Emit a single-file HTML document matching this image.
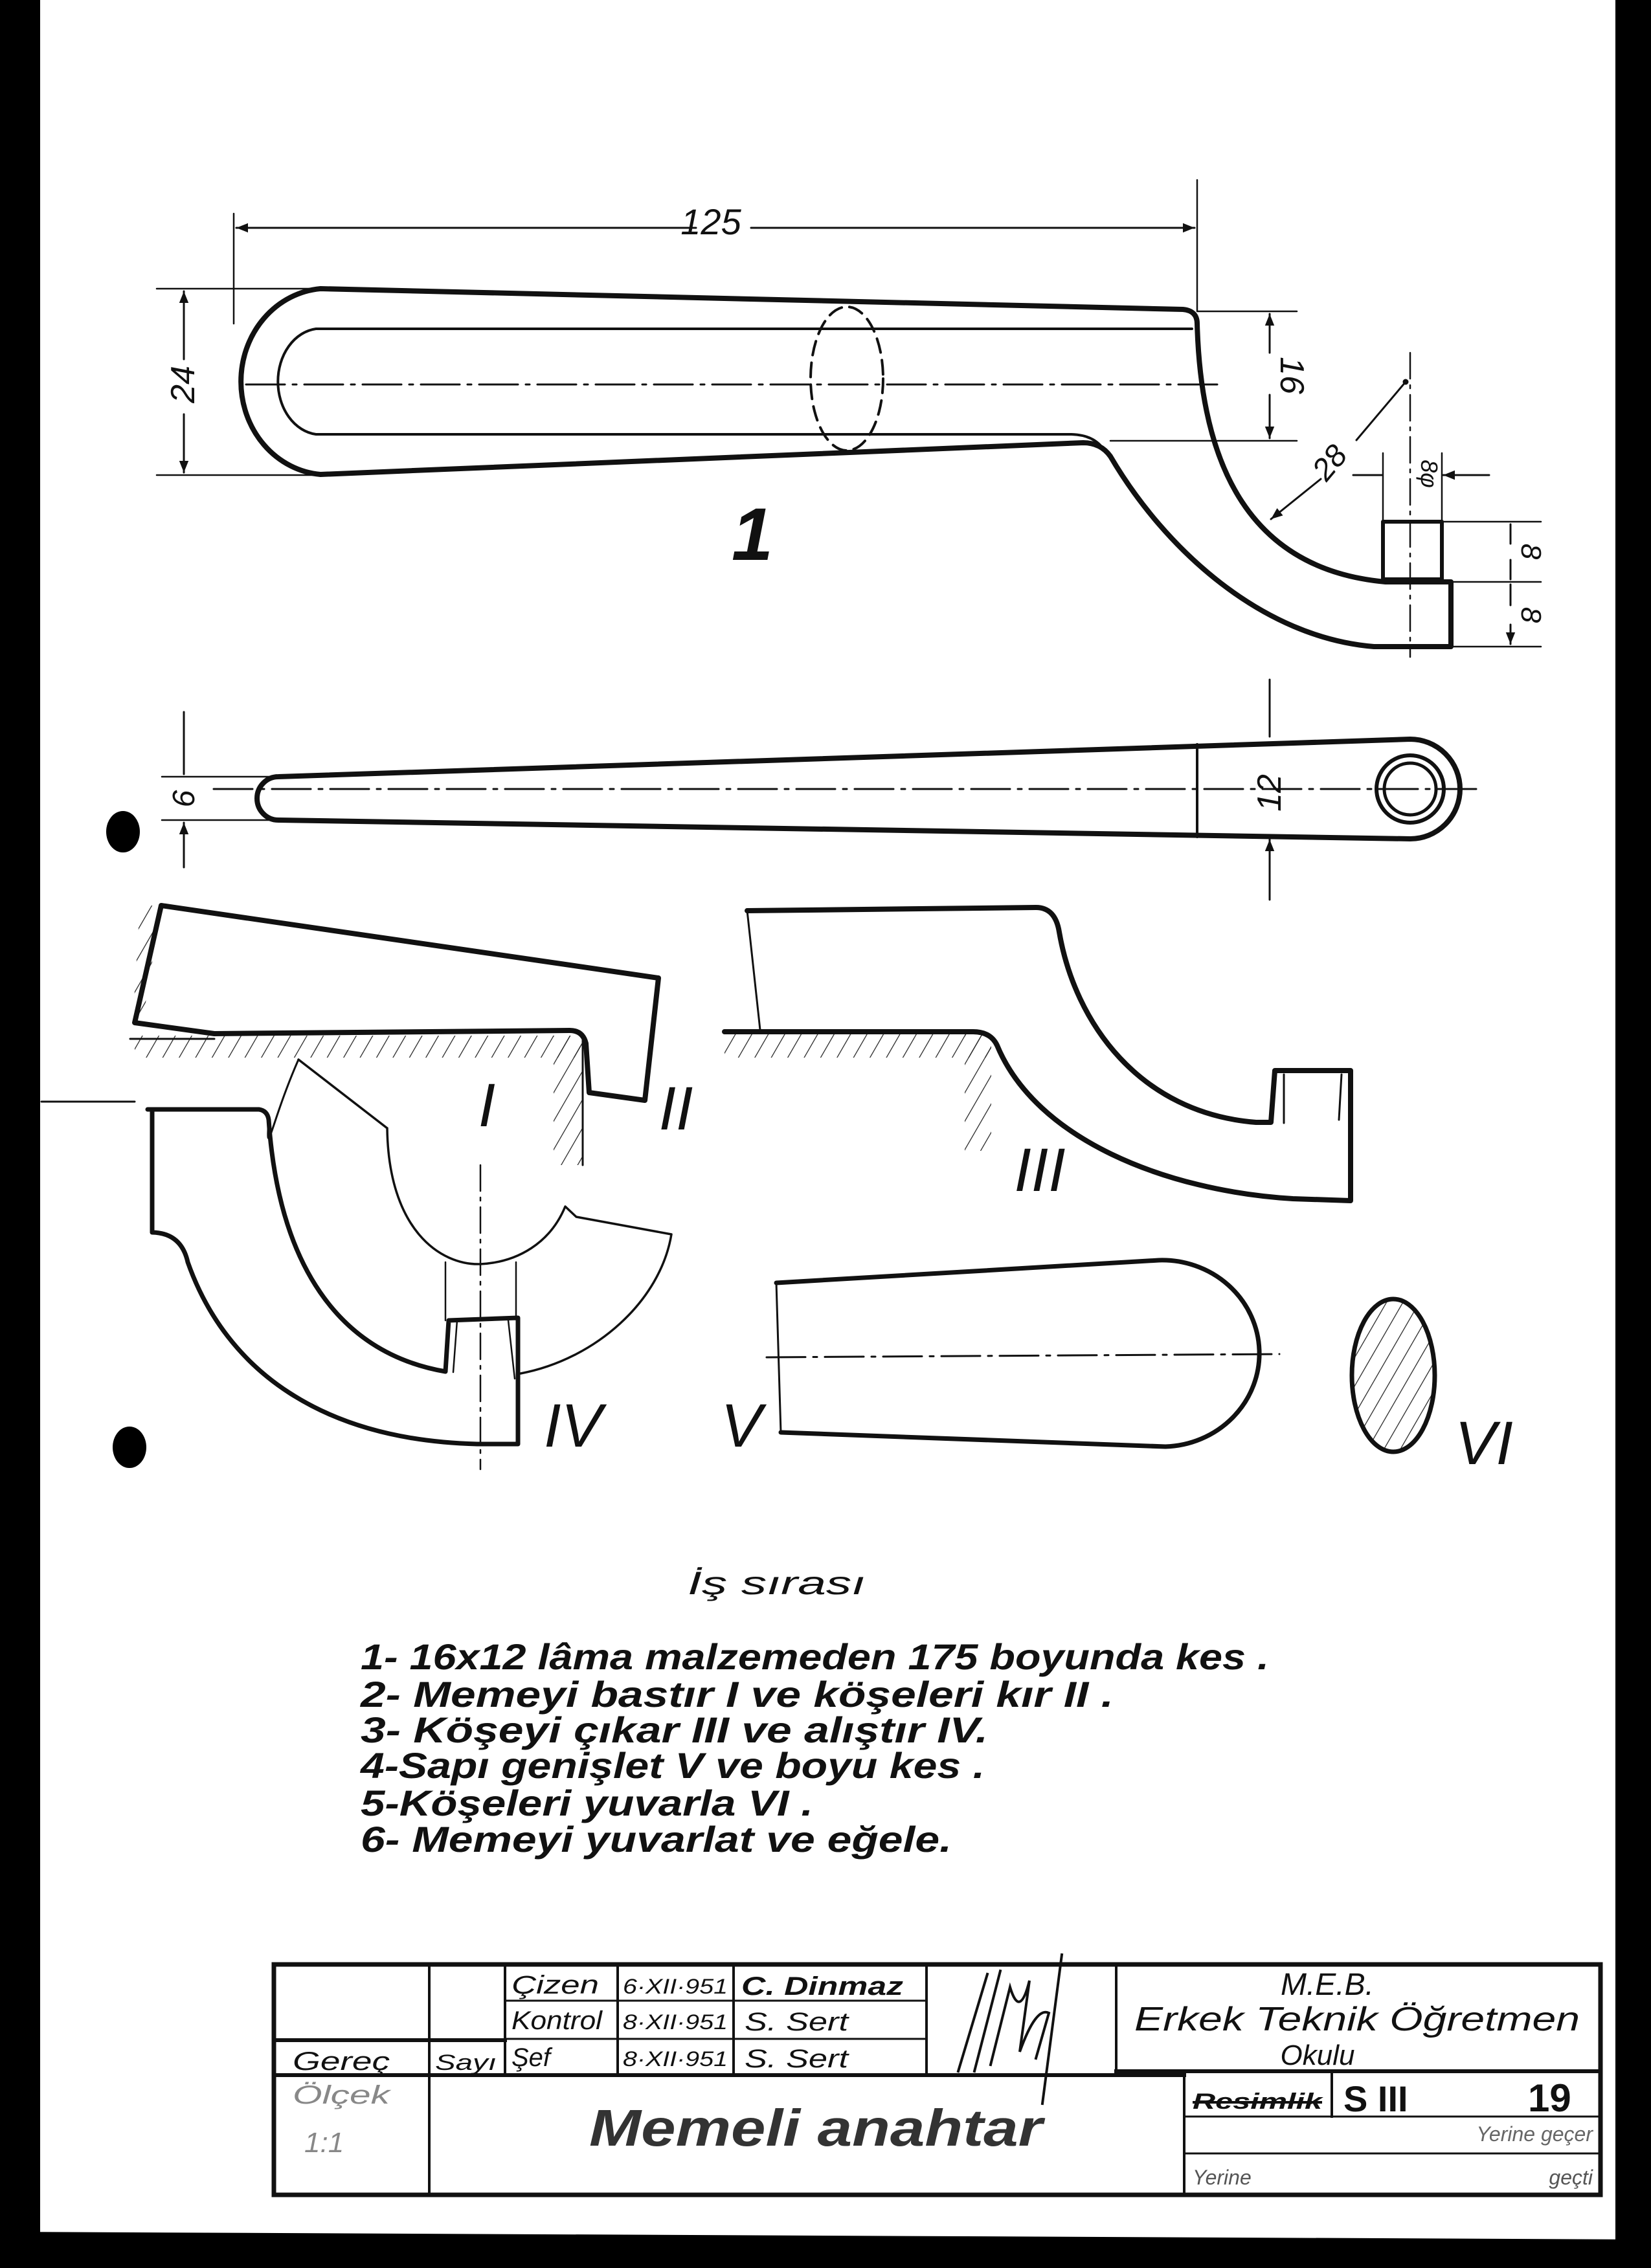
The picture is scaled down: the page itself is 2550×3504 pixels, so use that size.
<!DOCTYPE html>
<html><head><meta charset="utf-8"><style>
html,body{margin:0;padding:0;background:#fff;}
svg{display:block;}
text{font-family:"Liberation Sans",sans-serif;font-style:italic;fill:#111;}
</style></head><body>
<svg width="2550" height="3504" viewBox="0 0 2550 3504" xmlns="http://www.w3.org/2000/svg">
<defs>
<marker id="a2" viewBox="0 0 10 10" refX="10" refY="5" markerWidth="26" markerHeight="18" markerUnits="userSpaceOnUse" orient="auto-start-reverse">
<path d="M0,1 L10,5 L0,9 z" fill="#111"/></marker>
<pattern id="h" width="22" height="22" patternUnits="userSpaceOnUse" patternTransform="rotate(30)">
<line x1="0" y1="0" x2="0" y2="22" stroke="#222" stroke-width="2.5"/></pattern>
</defs>
<rect width="2550" height="3504" fill="#fff"/>

<g fill="none" stroke="#111" stroke-linecap="round" stroke-linejoin="round">
<path d="M495,446 L1827,478 Q1849,480 1849,500 C1855,720 1930,880 2140,899 L2241,899 L2241,999 L2122,999 C1950,985 1800,850 1715,705 Q1700,684 1673,684 L495,733 A134 144 0 0 1 495,446 Z" stroke-width="8"/>
<rect x="2136" y="806" width="91" height="89" stroke-width="6"/>
<path d="M1841,508 L488,508 A66 82 0 0 0 488,671 L1655,671 Q1690,672 1705,695" stroke-width="4"/>
<path d="M380,594 L1880,594" stroke-width="3" stroke-dasharray="60 12 6 12"/>
<ellipse cx="1308" cy="585" rx="56" ry="111" stroke-width="4" stroke-dasharray="22 12"/>
<path d="M361,330 L361,500 M1849,278 L1849,480" stroke-width="2.5"/>
<path d="M365,352 L1075,352 M1160,352 L1845,352" stroke-width="3" marker-start="url(#a2)" marker-end="url(#a2)"/>
<path d="M242,446 L495,446 M242,734 L495,734" stroke-width="2.5"/>
<path d="M284,450 L284,555 M284,640 L284,730" stroke-width="3" marker-start="url(#a2)" marker-end="url(#a2)"/>
<path d="M1849,481 L2003,481 M1715,681 L2003,681" stroke-width="2.5"/>
<path d="M1961,485 L1961,545 M1961,610 L1961,677" stroke-width="3" marker-start="url(#a2)" marker-end="url(#a2)"/>
<path d="M2171,590 L2095,680" stroke-width="3"/>
<path d="M2040,740 L1963,802" stroke-width="3" marker-end="url(#a2)"/>
<circle cx="2171" cy="590" r="4" fill="#111"/>
<path d="M2178,545 L2178,1015" stroke-width="2.5" stroke-dasharray="40 10 5 10"/>
<path d="M2090,734 L2134,734 M2300,734 L2229,734" stroke-width="3" marker-end="url(#a2)"/>
<path d="M2136,700 L2136,806 M2227,700 L2227,806" stroke-width="2.5"/>
<path d="M2227,806 L2380,806 M2241,899 L2380,899 M2241,999 L2380,999" stroke-width="2.5"/>
<path d="M2333,840 L2333,810 M2333,865 L2333,895 M2333,935 L2333,903 M2333,965 L2333,995" stroke-width="3" marker-end="url(#a2)"/>

<path d="M430,1200 L2178,1142 A77 77 0 0 1 2178,1296 L430,1267 A33 33.5 0 0 1 430,1200 Z" stroke-width="8"/>
<circle cx="2178" cy="1219" r="52" stroke-width="6"/>
<circle cx="2178" cy="1219" r="40" stroke-width="5"/>
<path d="M1849,1150 L1849,1293" stroke-width="4"/>
<path d="M330,1219 L2280,1219" stroke-width="3" stroke-dasharray="60 12 6 12"/>
<path d="M250,1200 L420,1200 M250,1267 L420,1267" stroke-width="2.5"/>
<path d="M284,1100 L284,1196 M284,1340 L284,1271" stroke-width="3" marker-end="url(#a2)"/>
<path d="M1961,1050 L1961,1138 M1961,1390 L1961,1297" stroke-width="3" marker-end="url(#a2)"/>

<polygon points="216,1399 249,1399 220,1580 205,1580" fill="url(#h)" stroke="none"/>
<rect x="208" y="1600" width="692" height="34" fill="url(#h)" stroke="none"/>
<rect x="855" y="1600" width="45" height="200" fill="url(#h)" stroke="none"/>
<path d="M249,1399 L1017,1511 L996,1700 L910,1688 L905,1612 Q900,1592 880,1592 L331,1597 L208,1580 L249,1399" stroke-width="8"/>
<path d="M201,1605 L331,1605" stroke-width="3"/>
<path d="M900,1600 L900,1800" stroke-width="3"/>
<rect x="1119" y="1596" width="412" height="38" fill="url(#h)" stroke="none"/>
<rect x="1490" y="1596" width="41" height="182" fill="url(#h)" stroke="none"/>
<path d="M1154,1407 L1174,1591" stroke-width="3"/>
<path d="M1154,1407 L1600,1402 Q1630,1402 1636,1440 C1660,1580 1760,1720 1940,1734 L1963,1734 L1969,1654 L2086,1654 L2086,1855 L1997,1852 C1800,1840 1600,1760 1540,1615 Q1530,1594 1503,1594 L1119,1594" stroke-width="8"/>
<path d="M1983,1660 L1983,1735 M2072,1660 L2068,1730" stroke-width="3"/>
<path d="M64,1702 L208,1702" stroke-width="3"/>
<path d="M228,1714 L400,1714 Q413,1716 415,1730 C430,1950 520,2090 688,2119 L693,2040 L800,2036 L800,2231 L737,2231 C500,2225 350,2120 290,1950 Q280,1905 235,1904 L235,1714" stroke-width="7"/>
<path d="M461,1637 C420,1730 410,1800 415,1730" stroke-width="3"/>
<path d="M461,1637 L598,1743 M598,1743 C600,1900 680,1955 742,1953 C800,1950 850,1920 873,1864 L890,1880 L1037,1907 C1020,2010 920,2100 804,2122" stroke-width="3.5"/>
<path d="M742,1800 L742,2270" stroke-width="2.5" stroke-dasharray="40 10 5 10"/>
<path d="M688,1950 L688,2040 M797,1950 L797,2036 M706,2040 L700,2120 M785,2040 L795,2130" stroke-width="2.5"/>
<path d="M1199,1982 L1790,1947 A150 144 0 0 1 1800,2235 L1206,2213" stroke-width="7"/>
<path d="M1199,1982 L1206,2213" stroke-width="3"/>
<path d="M1184,2097 L1976,2092" stroke-width="3" stroke-dasharray="60 12 6 12"/>
<ellipse cx="2152" cy="2125" rx="64" ry="118" fill="url(#h)" stroke-width="7"/>
</g>

<ellipse cx="190" cy="1285" rx="26" ry="32" fill="#000"/>
<ellipse cx="200" cy="2236" rx="26" ry="32" fill="#000"/>

<text x="1098" y="362" font-size="56" text-anchor="middle">125</text>
<text transform="translate(300,594) rotate(-90)" font-size="52" text-anchor="middle">24</text>
<text transform="translate(1978,580) rotate(90)" font-size="52" text-anchor="middle">16</text>
<text transform="translate(2066,725) rotate(-50)" font-size="48" text-anchor="middle">28</text>
<text transform="translate(2195,732) rotate(90)" font-size="36" text-anchor="middle">8φ</text>
<text transform="translate(2350,852) rotate(90)" font-size="44" text-anchor="middle">8</text>
<text transform="translate(2350,950) rotate(90)" font-size="44" text-anchor="middle">8</text>
<text transform="translate(300,1234) rotate(-90)" font-size="48" text-anchor="middle">6</text>
<text transform="translate(1978,1225) rotate(-90)" font-size="52" text-anchor="middle">12</text>
<text x="1162" y="865" font-size="115" font-weight="bold" text-anchor="middle">1</text>
<text x="752" y="1740" font-size="95" text-anchor="middle">I</text>
<text x="1044" y="1745" font-size="95" text-anchor="middle">II</text>
<text x="1606" y="1840" font-size="95" text-anchor="middle">III</text>
<text x="885" y="2235" font-size="95" text-anchor="middle">IV</text>
<text x="1145" y="2235" font-size="95" text-anchor="middle">V</text>
<text x="2292" y="2262" font-size="95" text-anchor="middle">VI</text>

<text x="1062" y="2463" font-size="50" textLength="275" lengthAdjust="spacingAndGlyphs">İş sırası</text>
<g font-size="56" font-weight="bold">
<text x="557" y="2579" textLength="1403" lengthAdjust="spacingAndGlyphs">1- 16x12  lâma  malzemeden  175  boyunda  kes .</text>
<text x="557" y="2637" textLength="1163" lengthAdjust="spacingAndGlyphs">2- Memeyi  bastır  I  ve  köşeleri  kır  II .</text>
<text x="557" y="2692" textLength="969" lengthAdjust="spacingAndGlyphs">3- Köşeyi  çıkar  III  ve  alıştır  IV.</text>
<text x="557" y="2747" textLength="964" lengthAdjust="spacingAndGlyphs">4-Sapı  genişlet  V  ve  boyu  kes .</text>
<text x="557" y="2805" textLength="699" lengthAdjust="spacingAndGlyphs">5-Köşeleri  yuvarla  VI .</text>
<text x="557" y="2861" textLength="913" lengthAdjust="spacingAndGlyphs">6- Memeyi  yuvarlat  ve  eğele.</text>
</g>

<g fill="none" stroke="#111" stroke-linecap="square">
<rect x="423" y="3035" width="2049" height="356" stroke-width="7"/>
<path d="M423,3206 L1829,3206 M1724,3200 L2472,3200 M423,3152 L780,3152" stroke-width="6"/>
<path d="M663,3035 L663,3391 M780,3035 L780,3206 M954,3035 L954,3206 M1133,3035 L1133,3206 M1431,3035 L1431,3206 M1724,3035 L1724,3200 M1829,3200 L1829,3391 M2057,3200 L2057,3270" stroke-width="4"/>
<path d="M780,3091 L1431,3091 M780,3150 L1431,3150 M1829,3270 L2472,3270 M1829,3327 L2472,3327" stroke-width="3"/>
<path d="M1480,3200 L1525,3050 M1505,3200 L1545,3045 M1530,3190 L1560,3070 Q1575,3120 1590,3060 L1575,3170 Q1600,3100 1620,3110 L1600,3180 M1640,3020 L1610,3250" stroke-width="4"/>
</g>
<g font-size="40">
<text x="790" y="3080" textLength="135" lengthAdjust="spacingAndGlyphs">Çizen</text>
<text x="790" y="3135" textLength="140" lengthAdjust="spacingAndGlyphs">Kontrol</text>
<text x="790" y="3192" textLength="60" lengthAdjust="spacingAndGlyphs">Şef</text>
<text x="962" y="3080" font-size="32" textLength="162" lengthAdjust="spacingAndGlyphs">6·XII·951</text>
<text x="962" y="3135" font-size="32" textLength="162" lengthAdjust="spacingAndGlyphs">8·XII·951</text>
<text x="962" y="3192" font-size="32" textLength="162" lengthAdjust="spacingAndGlyphs">8·XII·951</text>
<text x="1145" y="3082" font-weight="bold" textLength="250" lengthAdjust="spacingAndGlyphs">C. Dinmaz</text>
<text x="1150" y="3137" textLength="160" lengthAdjust="spacingAndGlyphs">S. Sert</text>
<text x="1150" y="3194" textLength="160" lengthAdjust="spacingAndGlyphs">S. Sert</text>
<text x="452" y="3198" textLength="150" lengthAdjust="spacingAndGlyphs">Gereç</text>
<text x="672" y="3198" font-size="34" textLength="95" lengthAdjust="spacingAndGlyphs">Sayı</text>
<text x="2050" y="3082" font-size="48" text-anchor="middle">M.E.B.</text>
<text x="1752" y="3137" font-size="52" textLength="688" lengthAdjust="spacingAndGlyphs">Erkek Teknik Öğretmen</text>
<text x="2035" y="3190" font-size="44" text-anchor="middle">Okulu</text>
<text x="452" y="3250" style="fill:#888" textLength="150" lengthAdjust="spacingAndGlyphs">Ölçek</text>
<text x="470" y="3325" style="fill:#888" font-size="44">1:1</text>
<text x="1260" y="3315" font-size="80" font-weight="bold" text-anchor="middle" textLength="700" lengthAdjust="spacingAndGlyphs" style="fill:#333">Memeli anahtar</text>
<text x="1842" y="3258" font-size="34" font-weight="bold" textLength="200" lengthAdjust="spacingAndGlyphs">Resimlik</text>
<text x="2075" y="3262" font-size="56" font-weight="bold" style="font-style:normal">S III</text>
<text x="2360" y="3262" font-size="60" font-weight="bold" style="font-style:normal">19</text>
<text x="2460" y="3308" font-size="32" text-anchor="end" style="fill:#666">Yerine geçer</text>
<text x="1842" y="3375" font-size="32" style="fill:#555">Yerine</text>
<text x="2460" y="3375" font-size="32" text-anchor="end" style="fill:#555">geçti</text>
</g>
<line x1="1842" y1="3248" x2="2042" y2="3248" stroke="#111" stroke-width="4"/>

<rect x="0" y="0" width="62" height="3504" fill="#000"/>
<rect x="2495" y="0" width="55" height="3504" fill="#000"/>
<polygon points="0,3448 2550,3460 2550,3504 0,3504" fill="#000"/>
</svg>
</body></html>
